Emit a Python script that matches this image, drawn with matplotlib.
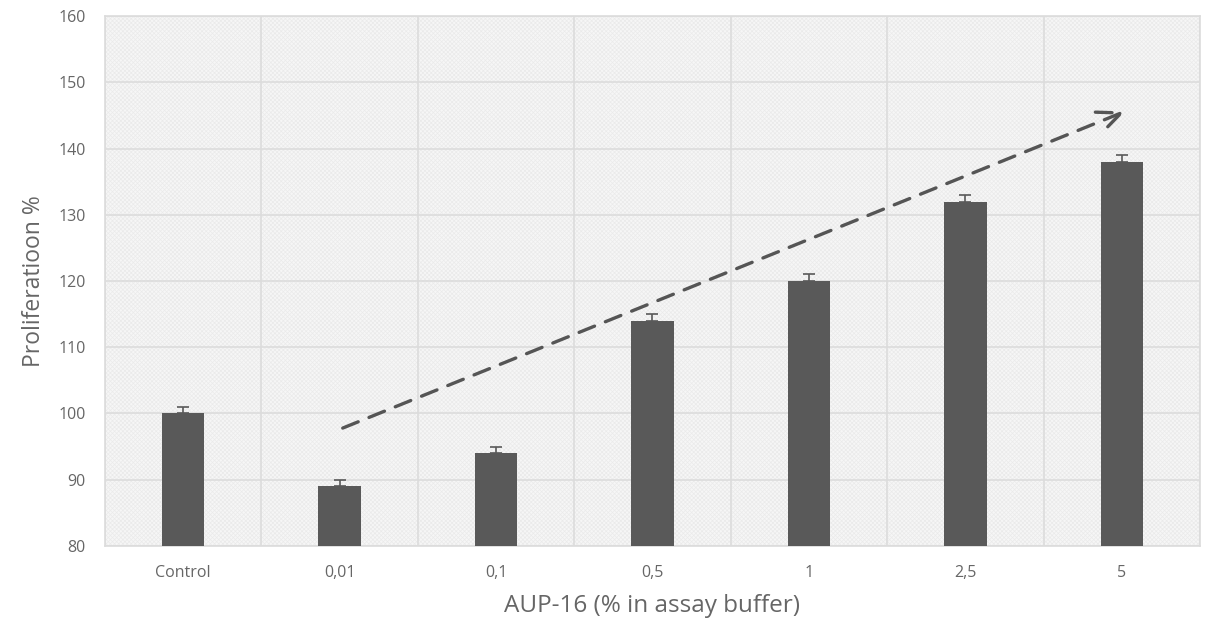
import matplotlib
matplotlib.use("Agg")
import matplotlib.pyplot as plt
from matplotlib.patches import Rectangle

categories = ["Control", "0,01", "0,1", "0,5", "1", "2,5", "5"]
values = [100, 89, 94, 114, 120, 132, 138]
errors = [1, 1, 1, 1, 1, 1, 1]
y_ticks = [80, 90, 100, 110, 120, 130, 140, 150, 160]
arrow_start = (1.02, 97.8)
arrow_end = (6.02, 145.6)

plt.rcParams['font.family'] = ['Open Sans', 'DejaVu Sans']
plt.rcParams['hatch.linewidth'] = 0.5
fig = plt.figure(figsize=(12.09, 6.21), dpi=100)
ax = fig.add_axes([0.0868, 0.1208, 0.9058, 0.8534])

ax.set_facecolor('#f6f6f6')
bg = Rectangle((0, 0), 1, 1, transform=ax.transAxes, facecolor='none',
               edgecolor='#eaeaea', hatch='xxxxxxxx', linewidth=0, zorder=0)
ax.add_patch(bg)

x = list(range(len(categories)))
ax.bar(x, values, width=0.27, color='#595959', zorder=3)
ax.errorbar(x, values, yerr=[[0]*len(errors), errors], fmt='none',
            ecolor='#595959', elinewidth=1.2, capsize=4, capthick=1.2, zorder=4)

ax.set_xlim(-0.5, len(categories) - 0.5)
ax.set_ylim(80, 160)
ax.set_yticks(y_ticks)
ax.set_xticks(x)
ax.set_xticklabels(categories)
ax.set_xticks([i + 0.5 for i in range(-1, len(categories))], minor=True)
ax.grid(False)
ax.yaxis.grid(True, color='#dcdcdc', linewidth=1.2, zorder=1)
ax.xaxis.grid(True, which='minor', color='#dcdcdc', linewidth=1.2, zorder=1)
ax.set_axisbelow(True)
ax.tick_params(axis='both', which='both', length=0, colors='#666666', labelsize=11.5)
ax.tick_params(axis='y', pad=14)
ax.tick_params(axis='x', pad=14)
for s in ax.spines.values():
    s.set_color('#dcdcdc')
    s.set_linewidth(1.2)

ax.set_ylabel("Proliferatioon %", fontsize=16.5, color='#666666', labelpad=9)
ax.set_xlabel("AUP-16 (% in assay buffer)", fontsize=17.5, color='#666666', labelpad=9)

ax.annotate("", xy=arrow_end, xytext=arrow_start,
            arrowprops=dict(arrowstyle='->,head_length=1.7,head_width=0.75',
                            color='#555555', lw=2.4, linestyle=(0, (5, 3.5)),
                            shrinkA=0, shrinkB=0), zorder=5)

fig.savefig("out.png", dpi=100, facecolor='white')
